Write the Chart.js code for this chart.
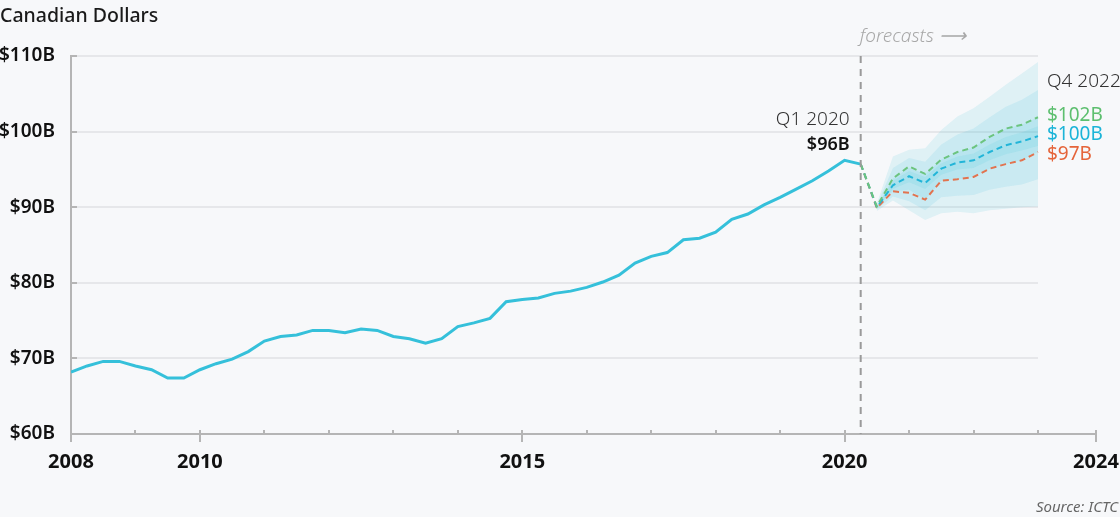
<!DOCTYPE html>
<html lang="en">
<head>
  <meta charset="UTF-8">
  <title>Canadian Dollars</title>
  <style>
    body { margin: 0; background: #f7f8fa; font-family: "Noto Sans", sans-serif; }
    #wrap { position: relative; width: 1120px; height: 517px; }
    #title { position: absolute; left: 0; top: 1px; font-size: 19.5px; font-weight: 500; color: #1a1a1a; }
    #source { position: absolute; right: 2px; bottom: 1px; font-size: 15px; font-style: italic; color: #666; }
  </style>
</head>
<body>
  <div id="wrap">
    <canvas id="gdpChart"></canvas>
    <div id="title">Canadian Dollars</div>
    <div id="source">Source: ICTC</div>
  </div>

  <script src="https://cdn.jsdelivr.net/npm/chart.js"></script>
  <script>
    // quarterly values, billions CAD
    const histStart = 2008;
    const histValues = [68.2, 69.0, 69.6, 69.6, 69.0, 68.5, 67.4, 67.4, 68.5, 69.3,
      69.9, 70.9, 72.3, 72.9, 73.1, 73.7, 73.7, 73.4, 73.9, 73.7,
      72.9, 72.6, 72.0, 72.6, 74.2, 74.7, 75.3, 77.5, 77.8, 78.0,
      78.6, 78.9, 79.4, 80.1, 81.0, 82.6, 83.5, 84.0, 85.7, 85.9,
      86.7, 88.4, 89.1, 90.3, 91.3, 92.4, 93.5, 94.8, 96.2, 95.7];

    const forecastStart = 2020.25;
    const highValues = [95.7, 90.1, 93.8, 95.4, 94.4, 96.3, 97.3, 97.9, 99.3, 100.4, 100.9, 101.9];
    const midValues = [95.7, 90.0, 92.9, 94.1, 93.2, 95.1, 95.9, 96.2, 97.3, 98.2, 98.7, 99.4];
    const lowValues = [95.7, 89.9, 92.1, 91.9, 91.0, 93.5, 93.7, 94.0, 95.1, 95.7, 96.2, 97.3];

    // fan bands start one quarter after the forecast start
    const bandStart = 2020.5;
    const band1Upper = [90.5, 96.7, 97.6, 97.8, 100.2, 102.0, 103.1, 104.6, 106.2, 107.7, 109.2];
    const band1Lower = [89.5, 90.9, 89.6, 88.3, 89.2, 89.4, 89.2, 89.6, 89.8, 90.0, 90.1];
    const band2Upper = [90.3, 95.2, 96.5, 96.0, 98.3, 99.6, 100.4, 101.9, 103.3, 104.2, 105.5];
    const band2Lower = [89.7, 91.4, 90.8, 89.6, 91.3, 91.5, 91.6, 92.3, 92.7, 93.0, 93.7];
    const band3Upper = [90.1, 93.8, 95.2, 94.4, 96.3, 97.3, 97.9, 99.3, 100.4, 100.9, 101.9];
    const band3Lower = [89.9, 92.1, 92.3, 91.0, 93.5, 93.7, 94.0, 95.1, 95.7, 96.2, 97.3];
    const band4Upper = [90.0, 93.5, 94.8, 94.0, 95.8, 96.7, 97.1, 98.3, 99.3, 99.9, 100.7];
    const band4Lower = [90.0, 92.4, 93.3, 92.4, 94.3, 95.0, 95.2, 96.2, 97.0, 97.5, 98.1];

    const xTickLabels = [2008, 2010, 2015, 2020, 2024];
    const yTicks = [60, 70, 80, 90, 100, 110];
    const xMin = 2008;
    const xMax = 2023.9; // axis stops just short of 2024, label sits at the end

    const toPoints = (start, values) => values.map((v, i) => ({ x: start + i * 0.25, y: v }));

    const fanColor = 'rgba(58, 190, 214, 0.13)';
    function band(values, fill) {
      return {
        data: toPoints(bandStart, values),
        borderWidth: 0,
        pointRadius: 0,
        backgroundColor: fanColor,
        fill: fill,
        order: 5
      };
    }
    function dashed(values, color) {
      return {
        data: toPoints(forecastStart, values),
        borderColor: color,
        borderWidth: 2,
        borderDash: [6, 4],
        pointRadius: 0,
        fill: false,
        order: 1
      };
    }

    // grid lines (stop at 2023) and little ticks on the axes
    const decorations = {
      id: 'decorations',
      beforeDatasetsDraw(chart) {
        const { ctx, chartArea, scales: { x, y } } = chart;
        const gridEnd = x.getPixelForValue(2023);
        ctx.save();
        ctx.lineWidth = 2;
        yTicks.forEach(v => {
          const py = Math.round(y.getPixelForValue(v));
          if (v > 60) {
            ctx.strokeStyle = '#e6e7ea';
            ctx.beginPath();
            ctx.moveTo(chartArea.left, py);
            ctx.lineTo(gridEnd, py);
            ctx.stroke();
          }
          ctx.strokeStyle = '#b5b5b5';
          ctx.beginPath();
          ctx.moveTo(chartArea.left, py);
          ctx.lineTo(chartArea.left + 6, py);
          ctx.stroke();
        });
        ctx.restore();
      },
      afterDraw(chart) {
        const { ctx, chartArea, scales: { x, y } } = chart;
        ctx.save();
        // x axis ticks
        ctx.strokeStyle = '#b5b5b5';
        ctx.lineWidth = 2;
        for (let yr = 2008; yr <= 2024; yr++) {
          const px = Math.round(x.getPixelForValue(Math.min(yr, xMax)));
          const major = xTickLabels.includes(yr);
          ctx.beginPath();
          ctx.moveTo(px, chartArea.bottom - 4);
          ctx.lineTo(px, chartArea.bottom + (major ? 8 : 0));
          ctx.stroke();
        }
        // forecast divider
        const fx = x.getPixelForValue(forecastStart);
        ctx.strokeStyle = '#9a9a9a';
        ctx.setLineDash([7, 6]);
        ctx.beginPath();
        ctx.moveTo(fx, chartArea.top);
        ctx.lineTo(fx, chartArea.bottom);
        ctx.stroke();
        ctx.setLineDash([]);

        ctx.textBaseline = 'middle';
        ctx.font = 'italic 300 19px "Noto Sans"';
        ctx.fillStyle = '#a8a8a8';
        ctx.textAlign = 'left';
        ctx.fillText('forecasts \u27F6', fx - 1, chartArea.top - 19);

        // Q1 2020 annotation
        const peakX = x.getPixelForValue(2020) + 5;
        ctx.textAlign = 'right';
        ctx.fillStyle = '#333';
        ctx.font = '300 19px "Noto Sans"';
        ctx.fillText('Q1 2020', peakX, 120);
        ctx.fillStyle = '#111';
        ctx.font = '600 18px "Noto Sans"';
        ctx.fillText('$96B', peakX, 145);

        // end labels
        const endX = x.getPixelForValue(2023) + 9;
        ctx.textAlign = 'left';
        ctx.fillStyle = '#333';
        ctx.font = '300 19px "Noto Sans"';
        ctx.fillText('Q4 2022', endX, 82);
        ctx.font = '400 19px "Noto Sans"';
        ctx.fillStyle = '#5dbf6f';
        ctx.fillText('$102B', endX, 116);
        ctx.fillStyle = '#1cb4d8';
        ctx.fillText('$100B', endX, 135);
        ctx.fillStyle = '#e5643a';
        ctx.fillText('$97B', endX, 155);
        ctx.restore();
      }
    };

    new Chart(document.getElementById('gdpChart'), {
      type: 'line',
      data: {
        datasets: [
          {
            data: toPoints(histStart, histValues),
            borderColor: '#35c0da',
            borderWidth: 3,
            pointRadius: 0,
            fill: false,
            order: 0
          },
          dashed(highValues, '#6cc47f'),
          dashed(midValues, '#22b5d8'),
          dashed(lowValues, '#e2734f'),
          band(band1Lower, false),
          band(band1Upper, '-1'),
          band(band2Lower, false),
          band(band2Upper, '-1'),
          band(band3Lower, false),
          band(band3Upper, '-1'),
          band(band4Lower, false),
          band(band4Upper, '-1')
        ]
      },
      options: {
        responsive: true,
        maintainAspectRatio: false,
        animation: false,
        layout: { padding: { top: 56, right: 24, bottom: 0, left: 0 } },
        plugins: { legend: { display: false }, tooltip: { enabled: false } },
        elements: { line: { tension: 0 } },
        scales: {
          x: {
            type: 'linear',
            min: xMin,
            max: xMax,
            afterBuildTicks: scale => {
              scale.ticks = xTickLabels.map(v => ({ value: Math.min(v, xMax) }));
            },
            afterFit: scale => {
              scale.height = 83;
              scale.paddingLeft = 0;
              scale.paddingRight = 0;
            },
            grid: { display: false, drawTicks: false, tickLength: 0 },
            border: { display: true, color: '#b5b5b5', width: 2 },
            ticks: {
              autoSkip: false,
              maxRotation: 0,
              padding: 16,
              color: '#111',
              font: { family: 'Noto Sans', size: 20, weight: 'bold' },
              callback: (v, i) => String(xTickLabels[i])
            }
          },
          y: {
            min: 60,
            max: 110,
            afterBuildTicks: scale => {
              scale.ticks = yTicks.map(v => ({ value: v }));
            },
            afterFit: scale => {
              scale.width = 71;
              scale.paddingTop = 0;
              scale.paddingBottom = 0;
            },
            grid: { display: false, drawTicks: false, tickLength: 0 },
            border: { display: true, color: '#b5b5b5', width: 2 },
            ticks: {
              padding: 16,
              color: '#111',
              font: { family: 'Noto Sans', size: 19, weight: '600' },
              callback: v => '$' + v + 'B'
            }
          }
        }
      },
      plugins: [decorations]
    });
  </script>
</body>
</html>
